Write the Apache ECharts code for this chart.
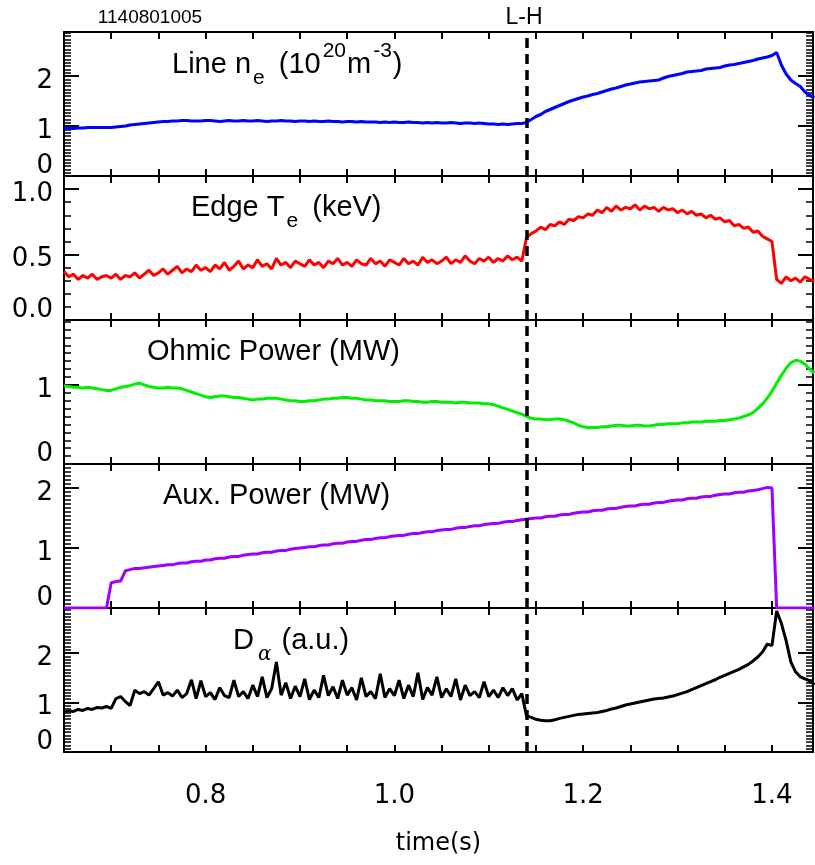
<!DOCTYPE html>
<html>
<head>
<meta charset="utf-8">
<script src="https://cdn.jsdelivr.net/npm/echarts@6/dist/echarts.min.js"></script>
<style>
  html, body { margin: 0; padding: 0; background: #fff; }
  #chart { width: 815px; height: 865px; }
</style>
</head>
<body>
<div id="chart"></div>
<script>
// shot 1140801005, every trace sampled every 5 ms starting at 0.650 s
const t0 = 0.65;
const dt = 0.005;
const lhTime = 1.137;
const xTickLabels = [0.8, 1.0, 1.2, 1.4];

// line averaged density (1e20 m^-3)
const lineNe = [
  0.96,0.95,0.95,0.96,0.96,0.97,0.97,0.97,0.97,0.97,
  0.97,0.98,0.99,1.00,1.02,1.03,1.04,1.05,1.06,1.07,
  1.08,1.09,1.09,1.10,1.10,1.11,1.11,1.10,1.10,1.10,
  1.11,1.11,1.10,1.09,1.10,1.11,1.10,1.10,1.11,1.10,
  1.10,1.11,1.10,1.09,1.10,1.10,1.11,1.10,1.10,1.09,
  1.10,1.10,1.09,1.10,1.09,1.09,1.10,1.09,1.09,1.08,
  1.09,1.09,1.08,1.09,1.08,1.08,1.08,1.07,1.08,1.07,
  1.08,1.07,1.07,1.08,1.07,1.07,1.06,1.07,1.06,1.07,
  1.06,1.06,1.07,1.06,1.05,1.06,1.06,1.05,1.06,1.05,
  1.04,1.04,1.03,1.04,1.03,1.04,1.05,1.05,1.07,1.13,
  1.19,1.23,1.29,1.33,1.37,1.41,1.45,1.49,1.52,1.55,
  1.58,1.60,1.63,1.65,1.68,1.71,1.74,1.76,1.79,1.82,
  1.84,1.86,1.88,1.89,1.90,1.91,1.92,1.96,1.99,2.01,
  2.03,2.05,2.08,2.09,2.10,2.11,2.14,2.15,2.16,2.17,
  2.20,2.22,2.23,2.25,2.27,2.29,2.31,2.34,2.36,2.38,
  2.41,2.47,2.22,2.04,1.92,1.85,1.79,1.68,1.61,1.57
];

// edge electron temperature (keV)
const edgeTe = [
  0.37,0.33,0.35,0.31,0.34,0.32,0.35,0.31,0.33,0.34,
  0.32,0.35,0.31,0.34,0.33,0.36,0.32,0.35,0.38,0.34,
  0.36,0.39,0.35,0.38,0.41,0.36,0.39,0.37,0.42,0.38,
  0.40,0.37,0.42,0.39,0.44,0.38,0.41,0.45,0.39,0.42,
  0.40,0.46,0.41,0.43,0.39,0.47,0.42,0.44,0.40,0.45,
  0.43,0.41,0.46,0.42,0.44,0.40,0.45,0.43,0.47,0.42,
  0.44,0.41,0.46,0.43,0.42,0.47,0.43,0.45,0.41,0.46,
  0.44,0.42,0.47,0.43,0.45,0.42,0.48,0.44,0.46,0.43,
  0.45,0.48,0.43,0.46,0.44,0.49,0.45,0.43,0.47,0.45,
  0.48,0.44,0.47,0.45,0.49,0.46,0.48,0.45,0.63,0.66,
  0.68,0.71,0.69,0.73,0.72,0.75,0.73,0.77,0.76,0.79,
  0.78,0.81,0.80,0.84,0.82,0.86,0.83,0.87,0.84,0.86,
  0.85,0.88,0.84,0.87,0.85,0.86,0.83,0.86,0.84,0.85,
  0.82,0.84,0.81,0.83,0.80,0.81,0.78,0.80,0.77,0.78,
  0.75,0.76,0.72,0.73,0.70,0.71,0.67,0.68,0.64,0.62,
  0.60,0.31,0.28,0.33,0.30,0.32,0.29,0.33,0.31,0.30
];

// ohmic power (MW)
const ohmicPower = [
  0.99,0.98,0.97,0.97,0.96,0.97,0.96,0.95,0.94,0.93,
  0.93,0.95,0.97,0.98,0.99,1.01,1.02,1.00,0.98,0.97,
  0.96,0.96,0.97,0.96,0.96,0.95,0.93,0.91,0.89,0.87,
  0.85,0.84,0.85,0.86,0.86,0.85,0.84,0.84,0.83,0.82,
  0.81,0.82,0.82,0.83,0.83,0.83,0.82,0.81,0.80,0.80,
  0.79,0.79,0.80,0.80,0.81,0.82,0.82,0.83,0.83,0.84,
  0.84,0.83,0.83,0.82,0.81,0.81,0.80,0.80,0.80,0.79,
  0.79,0.79,0.80,0.80,0.79,0.79,0.78,0.78,0.79,0.79,
  0.78,0.78,0.78,0.77,0.78,0.78,0.77,0.77,0.77,0.76,
  0.76,0.75,0.73,0.71,0.69,0.67,0.65,0.63,0.60,0.58,
  0.57,0.57,0.56,0.56,0.57,0.57,0.56,0.54,0.52,0.49,
  0.47,0.46,0.46,0.46,0.47,0.47,0.48,0.49,0.49,0.48,
  0.48,0.49,0.49,0.48,0.48,0.49,0.50,0.50,0.51,0.51,
  0.51,0.52,0.52,0.53,0.53,0.53,0.54,0.54,0.54,0.55,
  0.55,0.56,0.57,0.58,0.60,0.62,0.65,0.70,0.76,0.83,
  0.92,1.02,1.12,1.21,1.28,1.31,1.30,1.26,1.20,1.15
];

// auxiliary (ICRF) power (MW)
const auxPower = [
  0,0,0,0,0,0,0,0,0,0,
  0.42,0.44,0.45,0.62,0.64,0.66,0.66,0.67,0.68,0.69,
  0.70,0.71,0.72,0.72,0.74,0.75,0.75,0.77,0.78,0.78,
  0.80,0.80,0.82,0.83,0.83,0.85,0.86,0.86,0.88,0.89,
  0.90,0.90,0.92,0.93,0.93,0.95,0.96,0.96,0.98,0.99,
  1.00,1.01,1.02,1.02,1.04,1.05,1.05,1.07,1.08,1.08,
  1.10,1.11,1.11,1.13,1.14,1.14,1.16,1.17,1.17,1.19,
  1.20,1.21,1.21,1.23,1.24,1.24,1.26,1.27,1.27,1.29,
  1.30,1.31,1.31,1.33,1.34,1.34,1.36,1.37,1.37,1.39,
  1.40,1.41,1.41,1.43,1.44,1.44,1.46,1.47,1.48,1.49,
  1.50,1.50,1.52,1.53,1.53,1.55,1.56,1.56,1.58,1.59,
  1.60,1.60,1.62,1.63,1.63,1.65,1.66,1.66,1.68,1.69,
  1.70,1.70,1.72,1.73,1.73,1.75,1.76,1.76,1.78,1.79,
  1.80,1.80,1.82,1.83,1.83,1.85,1.86,1.86,1.88,1.89,
  1.90,1.90,1.92,1.93,1.93,1.95,1.96,1.97,1.99,2.01,
  2.00,0,0,0,0,0,0,0,0,0
];

// D-alpha emission (a.u.)
const dAlpha = [
  0.80,0.83,0.82,0.86,0.84,0.88,0.86,0.90,0.89,0.92,
  0.88,1.08,1.12,1.02,0.94,1.25,1.18,1.22,1.15,1.28,
  1.42,1.15,1.20,1.13,1.25,1.10,1.18,1.46,1.08,1.44,
  1.12,1.20,1.06,1.30,1.14,1.10,1.45,1.12,1.22,1.08,
  1.35,1.12,1.52,1.10,1.28,1.82,1.15,1.40,1.08,1.33,
  1.12,1.48,1.06,1.25,1.10,1.55,1.14,1.32,1.08,1.45,
  1.15,1.30,1.05,1.50,1.12,1.22,1.08,1.58,1.10,1.28,
  1.14,1.45,1.08,1.35,1.12,1.60,1.06,1.30,1.15,1.52,
  1.10,1.28,1.12,1.48,1.05,1.35,1.14,1.22,1.10,1.42,
  1.12,1.25,1.10,1.30,1.14,1.28,1.05,1.18,0.73,0.70,
  0.66,0.64,0.63,0.63,0.65,0.68,0.70,0.72,0.74,0.76,
  0.77,0.78,0.79,0.80,0.82,0.84,0.87,0.89,0.92,0.95,
  0.97,0.99,1.01,1.03,1.05,1.07,1.08,1.09,1.11,1.13,
  1.16,1.19,1.22,1.26,1.30,1.34,1.38,1.42,1.46,1.51,
  1.55,1.59,1.63,1.67,1.72,1.77,1.84,1.92,2.02,2.18,
  2.15,2.85,2.60,2.25,1.82,1.62,1.52,1.48,1.44,1.36
];

const timeBase = lineNe.map((_, i) => +(t0 + i * dt).toFixed(3));
const pairs = vals => vals.map((v, i) => [timeBase[i], v]);

const tickFont = 'DejaVu Sans';
const titleFont = 'Liberation Sans';

const panels = [
  { top: 32,  max: 2.88, interval: 1,   minor: 15, digits: 0, color: '#0000ff', data: lineNe },
  { top: 176, max: 1.10, interval: 0.5, minor: 5,  digits: 1, color: '#ff0000', data: edgeTe },
  { top: 320, max: 1.82, interval: 1,   minor: 10, digits: 0, color: '#00ee00', data: ohmicPower },
  { top: 464, max: 2.40, interval: 1,   minor: 15, digits: 0, color: '#9d00ff', data: auxPower },
  { top: 608, max: 2.91, interval: 1,   minor: 15, digits: 0, color: '#000000', data: dAlpha }
];

const axisLineStyle = { color: '#000', width: 2 };

const xLabel = v => xTickLabels.some(l => Math.abs(l - v) < 1e-6) ? v.toFixed(1) : '';

let grids = [], xAxes = [], yAxes = [], series = [];

panels.forEach((p, i) => {
  grids.push({ left: 64, right: 2, top: p.top, height: 144, outerBoundsMode: 'none' });

  ['bottom', 'top'].forEach(pos => {
    const last = i === panels.length - 1 && pos === 'bottom';
    xAxes.push({
      gridIndex: i, type: 'value', position: pos,
      min: 0.65, max: 1.4435, interval: 0.05,
      axisLine: { onZero: false, lineStyle: axisLineStyle },
      axisTick: { inside: true, length: 7, lineStyle: axisLineStyle },
      axisLabel: { show: last, margin: 31, formatter: xLabel,
        fontFamily: tickFont, fontSize: 26, color: '#000' },
      splitLine: { show: false },
      name: last ? 'time(s)' : '', nameLocation: 'middle', nameGap: 80,
      nameTextStyle: { fontFamily: tickFont, fontSize: 24, color: '#000' }
    });
  });

  ['left', 'right'].forEach(pos => {
    yAxes.push({
      gridIndex: i, type: 'value', position: pos,
      min: 0, max: p.max, interval: p.interval,
      axisLine: { onZero: false, lineStyle: axisLineStyle },
      axisTick: { inside: true, length: 15, lineStyle: axisLineStyle },
      minorTick: { show: true, splitNumber: p.minor, length: 7,
        lineStyle: { color: '#000', width: 1.5 } },
      splitLine: { show: false },
      axisLabel: {
        show: pos === 'left', margin: 11, color: '#000',
        fontFamily: tickFont, fontSize: 26,
        formatter: v => {
          const k = v / p.interval;
          if (Math.abs(k - Math.round(k)) > 1e-6) return '';
          const s = v.toFixed(p.digits);
          return v === 0 ? '{lo|' + s + '}' : '{n|' + s + '}';
        },
        rich: {
          n:  { fontFamily: tickFont, fontSize: 26, color: '#000', padding: [10, 0, 0, 0] },
          lo: { fontFamily: tickFont, fontSize: 26, color: '#000', padding: [0, 0, 20, 0] }
        }
      }
    });
  });

  series.push({
    type: 'line', xAxisIndex: 2 * i, yAxisIndex: 2 * i,
    data: pairs(p.data), showSymbol: false, symbol: 'none',
    lineStyle: { color: p.color, width: 3 }, z: 3,
    markLine: {
      silent: true, symbol: 'none', label: { show: false }, animation: false,
      lineStyle: { color: '#000', width: 3.5, type: [10, 6] },
      data: [{ xAxis: lhTime }]
    }
  });
});

const mainT = { fontFamily: titleFont, fontSize: 29, color: '#000', lineHeight: 48 };
const subT = { fontFamily: titleFont, fontSize: 21, color: '#000', verticalAlign: 'bottom',
  lineHeight: 18, padding: [0, 6, 0, 2] };
const supT = { fontFamily: titleFont, fontSize: 21, color: '#000', verticalAlign: 'top',
  lineHeight: 36, padding: [0, 1, 0, 2] };
const alphaT = { fontFamily: 'DejaVu Serif', fontStyle: 'italic', fontSize: 20, color: '#000',
  verticalAlign: 'bottom', lineHeight: 18, padding: [0, 2, 0, 4] };

const titleText = (x, y, text) => ({
  type: 'text', x: x, y: y, silent: true,
  style: { text: text, verticalAlign: 'middle', align: 'left',
    rich: { m: mainT, sub: subT, sup: supT, al: alphaT } }
});

const chart = echarts.init(document.getElementById('chart'));
chart.setOption({
  backgroundColor: '#fff',
  animation: false,
  grid: grids,
  xAxis: xAxes,
  yAxis: yAxes,
  series: series,
  graphic: [
    titleText(172, 65, '{m|Line n}{sub|e}{m| (10}{sup|20}{m|m}{sup|-3}{m|)}'),
    titleText(191, 208, '{m|Edge T}{sub|e}{m| (keV)}'),
    titleText(147, 352, '{m|Ohmic Power (MW)}'),
    titleText(163, 496, '{m|Aux. Power (MW)}'),
    titleText(233, 641, '{m|D}{al|α}{m| (a.u.)}'),
    { type: 'text', x: 150, y: 18, silent: true,
      style: { text: '1140801005', fontFamily: titleFont, fontSize: 19, fill: '#000',
        align: 'center', verticalAlign: 'middle' } },
    { type: 'text', x: 524, y: 18, silent: true,
      style: { text: 'L-H', fontFamily: titleFont, fontSize: 23, fill: '#000',
        align: 'center', verticalAlign: 'middle' } }
  ]
});
</script>
</body>
</html>
